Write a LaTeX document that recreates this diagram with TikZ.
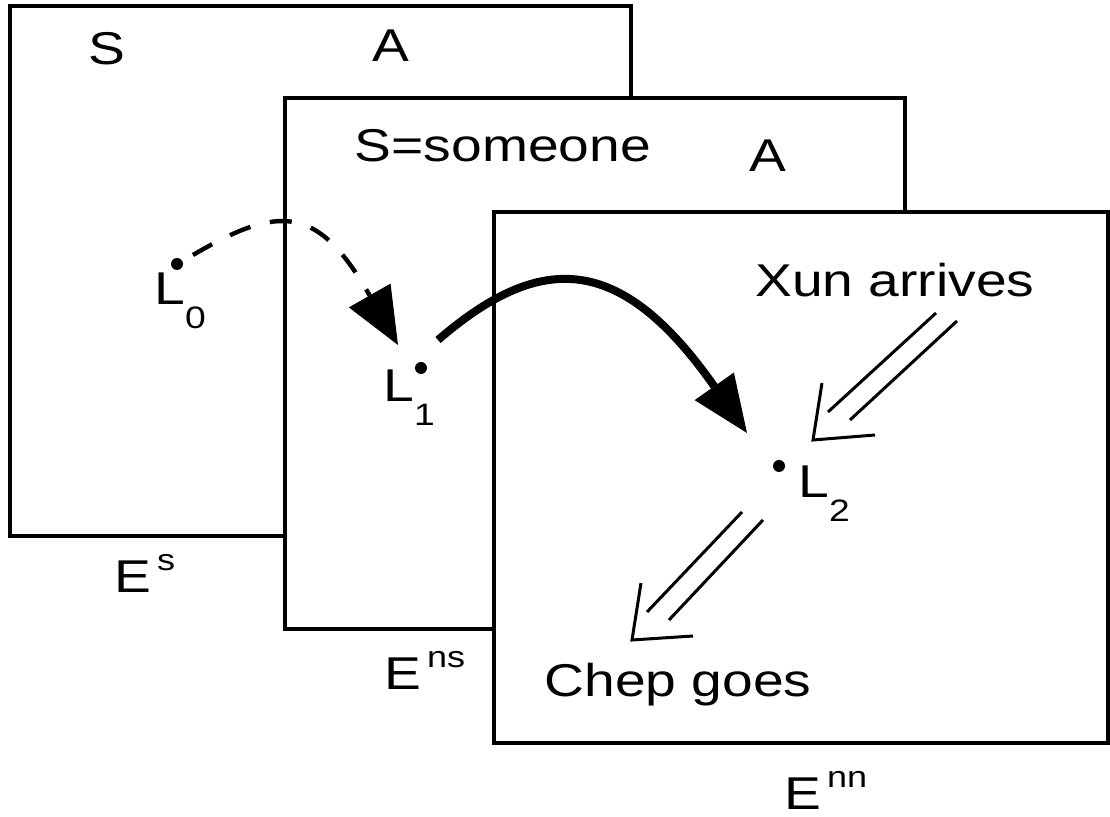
\documentclass[tikz,border=0pt]{standalone}
\usepackage{fontspec}
\setmainfont{Liberation Sans}[FakeStretch=1.2]
\usetikzlibrary{arrows.meta,calc}
\newcommand\esup[1]{\hspace{3pt}\raisebox{11pt}{\fontsize{15}{15}\selectfont #1}}
\newcommand\lsub[1]{\raisebox{-12pt}{\fontsize{15.5}{16}\selectfont #1}}
\begin{document}
\begin{tikzpicture}[x=0.5pt,y=-0.5pt,
  panel/.style={draw,fill=white,line width=1.8pt},
  lbl/.style={inner sep=0pt,anchor=base,font=\fontsize{23}{27}\selectfont},
  lblw/.style={inner sep=0pt,anchor=base west,font=\fontsize{23}{27}\selectfont},
  locdot/.style={circle,fill=black,inner sep=0pt,minimum size=6pt},
  bigtip/.style={-{Triangle[length=28.5pt,width=24pt,line width=0pt]}},
  dblline/.style={line width=1.5pt},
  vhead/.style={line width=1.5pt,line join=miter}
]
\useasboundingbox (0,0) rectangle (1110,817);
% panels
\draw[panel] (10,6) rectangle (631,536);
\draw[panel] (285,98) rectangle (905,629);
\draw[panel] (494,212) rectangle (1108,743);
% texts
\node[lbl] (s1) at (107,65) {S};
\node[lbl] (a1) at (391,62) {A};
\node[lbl] (s2) at (503,162) {S=someone};
\node[lbl] (a2) at (768,172) {A};
\node[lbl] (xun) at (895,297) {Xun arrives};
\node[lbl] (chep) at (678,697) {Chep goes};
\node[lblw] (es) at (114,593) {E\esup{s}};
\node[lblw] (ens) at (384,690) {E\esup{ns}};
\node[lblw] (enn) at (784,810) {E\esup{nn}};
% locations
\node[locdot] (d0) at (177,264) {};
\node[locdot] (d1) at (421,368) {};
\node[locdot] (d2) at (779,466) {};
\node[lblw] (l0) at (154,305) {L\lsub{0}};
\node[lblw] (l1) at (383,402) {L\lsub{1}};
\node[lblw] (l2) at (798,498) {L\lsub{2}};
% curved arrows
\coordinate (a0s) at (193,255);
\coordinate (a0e) at (398,345);
\coordinate (a1s) at (438,340);
\coordinate (a1e) at (747,433);
\draw[line width=2.2pt,dash pattern=on 11pt off 10pt,bigtip]
  (a0s) .. controls (280,204) and (318,205) .. (a0e);
\draw[line width=4pt,bigtip]
  (a1s) .. controls (540,252) and (620,252) .. (a1e);
% double arrow: Xun arrives -> L2
\coordinate (u1a) at (936,313); \coordinate (u1b) at (828,412);
\coordinate (u2a) at (957,321); \coordinate (u2b) at (850,420);
\coordinate (uv1) at (822,383); \coordinate (uvt) at (813,440); \coordinate (uv2) at (875,435);
\draw[dblline] (u1a) -- (u1b);
\draw[dblline] (u2a) -- (u2b);
\draw[vhead] (uv1) -- (uvt) -- (uv2);
% double arrow: L2 -> Chep goes
\coordinate (w1a) at (742,512); \coordinate (w1b) at (647,612);
\coordinate (w2a) at (763,520); \coordinate (w2b) at (669,620);
\coordinate (wv1) at (641,583); \coordinate (wvt) at (632,640); \coordinate (wv2) at (693,636);
\draw[dblline] (w1a) -- (w1b);
\draw[dblline] (w2a) -- (w2b);
\draw[vhead] (wv1) -- (wvt) -- (wv2);
\end{tikzpicture}
\end{document}
